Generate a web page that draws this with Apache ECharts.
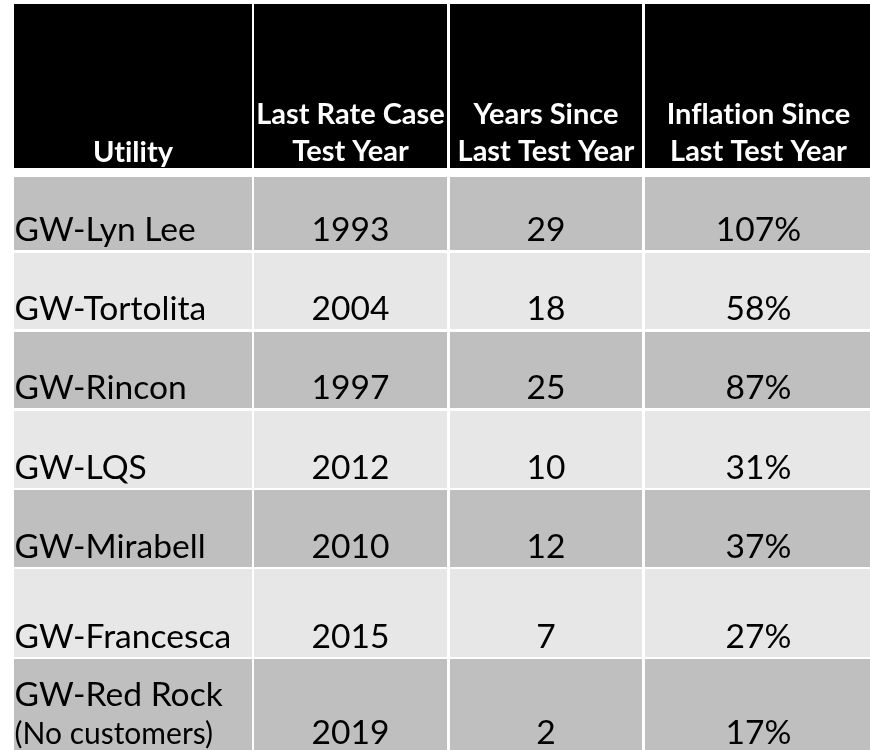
<!DOCTYPE html>
<html><head><meta charset="utf-8">
<script src="https://cdn.jsdelivr.net/npm/echarts@6/dist/echarts.min.js"></script>
<style>html,body{margin:0;padding:0;background:#fff}#c{width:870px;height:750px}</style>
</head><body><div id="c"></div>
<script>
// ---- data ----
const headerLines = [['Utility'], ['Last Rate Case', 'Test Year'], ['Years Since', 'Last Test Year'], ['Inflation Since', 'Last Test Year']];
const utilities = ['GW-Lyn Lee', 'GW-Tortolita', 'GW-Rincon', 'GW-LQS', 'GW-Mirabell', 'GW-Francesca', 'GW-Red Rock'];
const utilityNotes = ['', '', '', '', '', '', '(No customers)'];
const testYears = [1993, 2004, 1997, 2012, 2010, 2015, 2019];
const yearsSince = [29, 18, 25, 10, 12, 7, 2];
const inflationPct = [107, 58, 87, 31, 37, 27, 17];

// ---- layout (pixel units on hidden value axes) ----
const colLeft = [14, 254, 450, 645];
const colRight = [252, 447, 642, 872];
const rowTop = [4, 177, 253, 332, 411, 490, 569, 659];
const rowBottom = [168, 250, 329, 408, 488, 567, 657, 753];
const headerBaselines2 = [126, 163];
const headerBaseline1 = 164;
const bodyBaselineOffset = 7;
const noteLineGap = 38;
const FONT = 'Lato, "Open Sans", sans-serif';
const HFS = 29, BFS = 33.6, NFS = 30;
const MID = 0.387;

// disable "ti"/"fl" ligatures of Lato (source font has none)
(function () {
  const proto = CanvasRenderingContext2D.prototype;
  const ft = proto.fillText;
  proto.fillText = function () {
    if ('textRendering' in this) this.textRendering = 'optimizeSpeed';
    return ft.apply(this, arguments);
  };
})();

const cells = [];
for (let r = 0; r <= utilities.length; r++) {
  for (let c = 0; c < 4; c++) cells.push([c, r]);
}

function cellTexts(c, r) {
  if (r === 0) {
    const lines = headerLines[c];
    const bls = lines.length === 2 ? headerBaselines2 : [headerBaseline1];
    return lines.map((t, i) => ({ t, bl: bls[i], fs: HFS, bold: true, color: '#ffffff', align: 'center' }));
  }
  const i = r - 1;
  const bl = rowBottom[r] - bodyBaselineOffset;
  if (c === 0) {
    if (utilityNotes[i]) {
      return [
        { t: utilities[i], bl: bl - noteLineGap, fs: BFS, color: '#000', align: 'left' },
        { t: utilityNotes[i], bl: bl, fs: NFS, color: '#000', align: 'left' }
      ];
    }
    return [{ t: utilities[i], bl, fs: BFS, color: '#000', align: 'left' }];
  }
  const vals = [null, String(testYears[i]), String(yearsSince[i]), inflationPct[i] + '%'];
  return [{ t: vals[c], bl, fs: BFS, color: '#000', align: 'center' }];
}

const chart = echarts.init(document.getElementById('c'), null, { renderer: 'canvas' });
chart.setOption({
  backgroundColor: '#ffffff',
  animation: false,
  grid: { left: 0, top: 0, width: 870, height: 750 },
  xAxis: { type: 'value', min: 0, max: 870, show: false },
  yAxis: { type: 'value', min: 0, max: 750, inverse: true, show: false },
  series: [{
    type: 'custom',
    coordinateSystem: 'cartesian2d',
    silent: true,
    clip: false,
    data: cells,
    renderItem: function (params, api) {
      const c = api.value(0), r = api.value(1);
      const p0 = api.coord([colLeft[c], rowTop[r]]);
      const p1 = api.coord([colRight[c], rowBottom[r]]);
      const fill = r === 0 ? '#000000' : (r % 2 === 1 ? '#bfbfbf' : '#e7e7e7');
      const children = [{
        type: 'rect',
        shape: { x: p0[0], y: p0[1], width: p1[0] - p0[0], height: p1[1] - p0[1] },
        style: { fill: fill }
      }];
      cellTexts(c, r).forEach(function (tx) {
        const x = tx.align === 'left' ? colLeft[c] + 0.5 : (colLeft[c] + colRight[c]) / 2;
        const pt = api.coord([x, tx.bl - MID * tx.fs]);
        children.push({
          type: 'text',
          x: pt[0], y: pt[1],
          style: {
            text: tx.t,
            fill: tx.color,
            fontFamily: FONT,
            fontSize: tx.fs,
            fontWeight: tx.bold ? 'bold' : 'normal',
            align: tx.align,
            verticalAlign: 'middle'
          }
        });
      });
      return { type: 'group', children: children };
    }
  }]
});
</script></body></html>
